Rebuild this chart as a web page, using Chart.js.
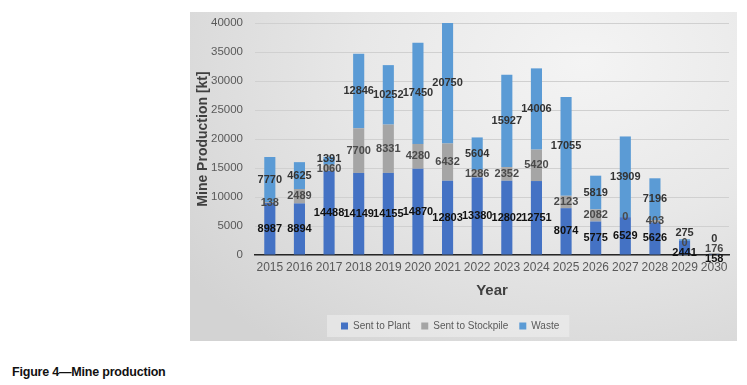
<!DOCTYPE html>
<html>
<head>
<meta charset="utf-8">
<script src="https://cdn.jsdelivr.net/npm/chart.js@4.4.1/dist/chart.umd.min.js"></script>
<style>
body { margin:0; width:747px; height:385px; background:#fff; position:relative; overflow:hidden; font-family:"Liberation Sans", Arial, sans-serif; }
#box { position:absolute; left:190px; top:12px; width:547px; height:329px;
  background: radial-gradient(ellipse 90% 110% at 72% 15%, #f4f4f4 0%, #e8e8e8 45%, #d3d3d3 100%); }
#caption { position:absolute; left:12px; top:365px; font-weight:bold; font-size:12.5px; color:#111; letter-spacing:-0.2px; }
</style>
</head>
<body>
<div id="box"><canvas id="chart" width="547" height="329"></canvas></div>
<div id="caption">Figure 4—Mine production</div>
<script>
const years = ['2015','2016','2017','2018','2019','2020','2021','2022','2023','2024','2025','2026','2027','2028','2029','2030'];
const sentToPlant = [8987, 8894, 14488, 14149, 14155, 14870, 12803, 13380, 12802, 12751, 8074, 5775, 6529, 5626, 2441, 158];
const sentToStockpile = [138, 2489, 1060, 7700, 8331, 4280, 6432, 1286, 2352, 5420, 2123, 2082, 0, 403, 0, 176];
const waste = [7770, 4625, 1391, 12846, 10252, 17450, 20750, 5604, 15927, 14006, 17055, 5819, 13909, 7196, 275, 0];
const yTicks = [0, 5000, 10000, 15000, 20000, 25000, 30000, 35000, 40000];

const labelColors = ['#111111', '#4a4a4a', '#333333'];

// draws value labels in the middle of each segment, spreading them apart when they collide
const segmentLabels = {
    id: 'segmentLabels',
    afterDatasetsDraw(chart) {
        const ctx = chart.ctx;
        const gap = 10;
        const lowest = chart.chartArea.bottom + 4;
        ctx.save();
        ctx.font = 'bold 11px "Liberation Sans", Arial, sans-serif';
        ctx.textAlign = 'center';
        ctx.textBaseline = 'middle';
        years.forEach((yr, i) => {
            let items = [];
            chart.data.datasets.forEach((ds, d) => {
                const bar = chart.getDatasetMeta(d).data[i];
                items.push({ text: String(ds.data[i]), x: bar.x, y: (bar.y + bar.base) / 2, color: labelColors[d] });
            });
            // clusters, bottom to top
            let clusters = items.map(it => ({ list: [it], sum: it.y }));
            let merged = true;
            while (merged) {
                merged = false;
                for (let k = 0; k < clusters.length - 1; k++) {
                    const a = clusters[k], b = clusters[k + 1];
                    const aTop = a.sum / a.list.length - gap * (a.list.length - 1) / 2;
                    const bBottom = b.sum / b.list.length + gap * (b.list.length - 1) / 2;
                    if (bBottom > aTop - gap) {
                        clusters.splice(k, 2, { list: a.list.concat(b.list), sum: a.sum + b.sum });
                        merged = true;
                        break;
                    }
                }
            }
            clusters.forEach(c => {
                const n = c.list.length;
                let mid = c.sum / n;
                const bottomY = mid + gap * (n - 1) / 2;
                if (bottomY > lowest) mid -= bottomY - lowest;
                c.list.forEach((it, k) => {
                    ctx.fillStyle = it.color;
                    ctx.fillText(it.text, it.x, mid + gap * ((n - 1) / 2 - k));
                });
            });
        });
        ctx.restore();
    }
};

// legend sits left of centre in the original, on a lighter panel
const legendPanel = {
    id: 'legendPanel',
    afterLayout(chart) {
        if (chart.legend) chart.legend.left = 140;
    },
    beforeDraw(chart) {
        const boxes = chart.legend && chart.legend.legendHitBoxes;
        if (!boxes || !boxes.length) return;
        const left = Math.min(...boxes.map(b => b.left)) - 14;
        const right = Math.max(...boxes.map(b => b.left + b.width)) + 10;
        const top = boxes[0].top - 6;
        const ctx = chart.ctx;
        ctx.save();
        ctx.fillStyle = 'rgba(240,240,240,0.55)';
        ctx.fillRect(left, top, right - left, boxes[0].height + 12);
        ctx.restore();
    }
};

new Chart(document.getElementById('chart').getContext('2d'), {
    type: 'bar',
    data: {
        labels: years,
        datasets: [
            { label: 'Sent to Plant', data: sentToPlant, backgroundColor: '#4472c4' },
            { label: 'Sent to Stockpile', data: sentToStockpile, backgroundColor: '#a5a5a5' },
            { label: 'Waste', data: waste, backgroundColor: '#5b9bd5' }
        ]
    },
    options: {
        responsive: false,
        animation: false,
        barPercentage: 0.75,
        categoryPercentage: 0.5,
        layout: { padding: { top: 11, right: 8, left: 0, bottom: 0 } },
        scales: {
            x: {
                stacked: true,
                grid: { display: false, drawTicks: false },
                border: { display: true, color: '#262626', width: 1.5 },
                ticks: { color: '#595959', font: { size: 12, family: '"Liberation Sans", Arial' }, padding: 5, maxRotation: 0, minRotation: 0, autoSkip: false },
                title: { display: true, text: 'Year', color: '#404040', font: { size: 15, weight: 'bold', family: '"Liberation Sans", Arial' }, padding: { top: 0, bottom: 10 } },
                afterFit: scale => { scale.height = 55; }
            },
            y: {
                stacked: true,
                min: 0,
                max: 40000,
                afterBuildTicks: scale => { scale.ticks = yTicks.map(v => ({ value: v })); },
                grid: { color: '#d0d0d0', lineWidth: 1, drawTicks: false },
                border: { display: false },
                ticks: { color: '#595959', font: { size: 11.5, family: '"Liberation Sans", Arial' }, padding: 12, callback: v => String(v) },
                title: { display: true, text: 'Mine Production [kt]', color: '#404040', font: { size: 14, weight: 'bold', family: '"Liberation Sans", Arial' }, padding: { top: 5, bottom: 0 } },
                afterFit: scale => { scale.width = 65; scale.paddingTop = 0; scale.paddingBottom = 0; }
            }
        },
        plugins: {
            legend: {
                position: 'bottom',
                align: 'start',
                labels: { boxWidth: 7, boxHeight: 7, color: '#595959', font: { size: 10, family: '"Liberation Sans", Arial' }, padding: 11 }
            },
            tooltip: { enabled: false }
        }
    },
    plugins: [segmentLabels, legendPanel]
});
</script>
</body>
</html>
